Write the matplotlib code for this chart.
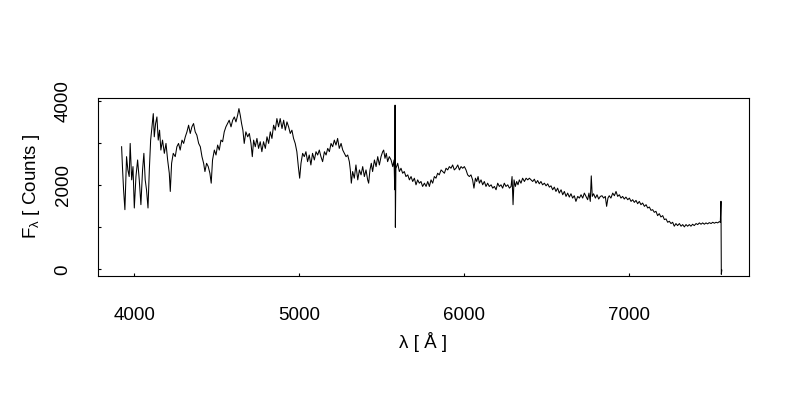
import matplotlib.pyplot as plt

plt.rcParams['font.family'] = ['Liberation Sans', 'DejaVu Sans']

# spectrum (wavelength in Angstrom, flux in counts)
wave = [3923, 3929, 3935, 3943, 3953, 3961, 3969, 3975, 3984, 3992,
        4000, 4010, 4020, 4030, 4040, 4050, 4058, 4066, 4074, 4083,
        4091, 4099, 4107, 4115, 4121, 4129, 4137, 4145, 4153, 4161,
        4171, 4182, 4192, 4202, 4212, 4218, 4226, 4236, 4248, 4258,
        4268, 4278, 4289, 4299, 4309, 4319, 4329, 4339, 4349, 4359,
        4369, 4379, 4390, 4400, 4410, 4420, 4428, 4438, 4448, 4458,
        4466, 4474, 4485, 4495, 4505, 4515, 4525, 4535, 4545, 4555,
        4565, 4575, 4586, 4596, 4606, 4616, 4626, 4634, 4642, 4650,
        4658, 4666, 4676, 4687, 4697, 4707, 4715, 4723, 4733, 4743,
        4753, 4763, 4773, 4783, 4794, 4804, 4814, 4824, 4834, 4844,
        4854, 4864, 4874, 4884, 4895, 4905, 4915, 4925, 4935, 4945,
        4955, 4965, 4975, 4985, 4994, 5002, 5010, 5020, 5030, 5040,
        5050, 5060, 5070, 5080, 5091, 5101, 5111, 5121, 5131, 5141,
        5152, 5162, 5172, 5182, 5192, 5202, 5212, 5222, 5232, 5242,
        5253, 5263, 5273, 5283, 5293, 5303, 5309, 5315, 5323, 5333,
        5343, 5354, 5364, 5374, 5384, 5394, 5404, 5414, 5420, 5428,
        5436, 5444, 5455, 5465, 5475, 5485, 5495, 5505, 5511, 5519,
        5527, 5535, 5545, 5556, 5566, 5574, 5578, 5580, 5582, 5585,
        5596, 5606, 5616, 5626, 5636, 5646, 5657, 5667, 5677, 5687,
        5697, 5707, 5717, 5727, 5737, 5747, 5758, 5768, 5778, 5788,
        5798, 5808, 5818, 5828, 5838, 5848, 5859, 5869, 5879, 5889,
        5899, 5909, 5919, 5929, 5939, 5949, 5960, 5970, 5980, 5990,
        6000, 6010, 6020, 6030, 6040, 6050, 6058, 6067, 6075, 6083,
        6091, 6101, 6111, 6121, 6131, 6141, 6151, 6162, 6172, 6182,
        6192, 6202, 6212, 6222, 6232, 6242, 6252, 6263, 6273, 6283,
        6289, 6295, 6301, 6309, 6317, 6325, 6333, 6343, 6353, 6364,
        6374, 6384, 6394, 6404, 6414, 6424, 6434, 6444, 6454, 6464,
        6474, 6485, 6495, 6505, 6515, 6525, 6535, 6545, 6555, 6565,
        6575, 6586, 6596, 6606, 6616, 6626, 6636, 6646, 6656, 6666,
        6676, 6687, 6697, 6707, 6717, 6727, 6737, 6747, 6755, 6763,
        6769, 6775, 6783, 6794, 6804, 6814, 6824, 6834, 6844, 6854,
        6862, 6870, 6878, 6888, 6899, 6909, 6919, 6929, 6939, 6949,
        6959, 6969, 6979, 6990, 7000, 7010, 7020, 7030, 7040, 7050,
        7060, 7070, 7080, 7091, 7101, 7111, 7121, 7131, 7141, 7151,
        7161, 7171, 7181, 7191, 7202, 7212, 7222, 7232, 7242, 7252,
        7262, 7272, 7282, 7292, 7303, 7313, 7323, 7333, 7343, 7353,
        7363, 7373, 7383, 7393, 7404, 7414, 7424, 7434, 7444, 7454,
        7464, 7474, 7484, 7495, 7505, 7515, 7525, 7535, 7545, 7551,
        7555, 7557, 7560]
flux = [2919, 2367, 1894, 1420, 2683, 2367, 2209, 2998, 2130, 2446,
        1460, 2209, 2604, 2130, 1539, 2367, 2762, 2130, 1894, 1460,
        2367, 3077, 3393, 3708, 3156, 3472, 3629, 3077, 3314, 2840,
        3077, 2762, 2998, 2604, 2288, 1854, 2525, 2762, 2683, 2919,
        2998, 2840, 3077, 2998, 3156, 3274, 3432, 3235, 3393, 3472,
        3274, 3195, 2998, 2919, 2683, 2525, 2328, 2525, 2446, 2288,
        2051, 2604, 2840, 2722, 2959, 2840, 3077, 3038, 3274, 3393,
        3472, 3551, 3393, 3551, 3629, 3511, 3669, 3827, 3669, 3472,
        3314, 2998, 3274, 3156, 3235, 2998, 2683, 3077, 2919, 3117,
        2880, 3038, 2801, 3038, 2880, 3156, 2998, 3274, 3117, 3432,
        3314, 3590, 3393, 3590, 3353, 3551, 3314, 3511, 3393, 3235,
        3314, 3117, 2998, 2801, 2446, 2170, 2525, 2762, 2683, 2801,
        2564, 2722, 2485, 2762, 2604, 2801, 2722, 2840, 2683, 2564,
        2801, 2722, 2880, 2801, 2998, 2919, 3077, 2959, 3117, 2880,
        2998, 2840, 2762, 2683, 2722, 2564, 2367, 2051, 2328, 2170,
        2485, 2130, 2367, 2249, 2446, 2209, 2367, 2130, 2051, 2367,
        2525, 2328, 2604, 2446, 2683, 2485, 2683, 2801, 2840, 2643,
        2762, 2564, 2683, 2604, 2446, 2604, 1894, 3910, 1000, 2400,
        2525, 2328, 2407, 2288, 2328, 2209, 2249, 2130, 2209, 2091,
        2170, 2012, 2130, 2051, 2091, 1973, 2051, 1973, 2091, 1973,
        2130, 2051, 2209, 2170, 2288, 2249, 2367, 2328, 2288, 2407,
        2367, 2446, 2407, 2485, 2367, 2407, 2485, 2367, 2446, 2407,
        2446, 2367, 2249, 2209, 2249, 2130, 1933, 2170, 2091, 2209,
        2051, 2130, 2012, 2091, 1973, 2051, 1973, 2012, 1933, 1973,
        1894, 2051, 1973, 2012, 1933, 2051, 1973, 2012, 1933, 1973,
        2209, 1539, 2130, 1973, 2091, 2012, 2130, 2051, 2170, 2091,
        2170, 2130, 2170, 2130, 2091, 2146, 2051, 2114, 2036, 2091,
        2012, 2051, 1988, 2036, 1957, 1988, 1894, 1957, 1854, 1933,
        1815, 1894, 1775, 1854, 1736, 1815, 1720, 1799, 1696, 1752,
        1617, 1736, 1696, 1775, 1696, 1815, 1736, 1657, 1815, 1617,
        2225, 1736, 1799, 1696, 1775, 1673, 1736, 1752, 1696, 1736,
        1499, 1696, 1752, 1696, 1815, 1752, 1854, 1736, 1775, 1696,
        1736, 1673, 1720, 1657, 1696, 1617, 1657, 1594, 1641, 1562,
        1617, 1539, 1578, 1499, 1539, 1460, 1483, 1404, 1420, 1357,
        1381, 1278, 1325, 1246, 1278, 1184, 1199, 1120, 1144, 1089,
        1120, 1026, 1089, 1041, 1089, 1026, 1065, 1010, 1065, 1026,
        1065, 1026, 1073, 1041, 1089, 1065, 1105, 1073, 1105, 1073,
        1105, 1081, 1112, 1089, 1120, 1097, 1120, 1105, 1136, 1120,
        1620, -120, -20]

xticks = [4000, 5000, 6000, 7000]
yticks = [0, 1000, 2000, 3000, 4000]
ytick_labels = ['0', '', '2000', '', '4000']

fig = plt.figure(figsize=(8, 4), dpi=100)
ax = fig.add_axes([0.1225, 0.31, 0.8138, 0.445])
ax.plot(wave, flux, color='black', lw=0.75)

ax.set_xlim(3780, 7725)
ax.set_ylim(-160, 4080)
ax.set_xticks(xticks)
ax.set_xticklabels([str(t) for t in xticks])
ax.set_yticks(yticks)
ax.set_yticklabels(ytick_labels, rotation=90, va='center')
ax.tick_params(direction='in', length=2.5, width=0.8, labelsize=13.5)
ax.tick_params(axis='x', pad=22)
ax.tick_params(axis='y', pad=19)
for s in ax.spines.values():
    s.set_linewidth(0.8)

ax.set_xlabel('λ [ Å ]', fontsize=13.5, labelpad=6)
ax.set_ylabel(r'F$_{\mathregular{λ}}$ [ Counts ]', fontsize=13.5, labelpad=9)

fig.savefig('out.png', dpi=100)
